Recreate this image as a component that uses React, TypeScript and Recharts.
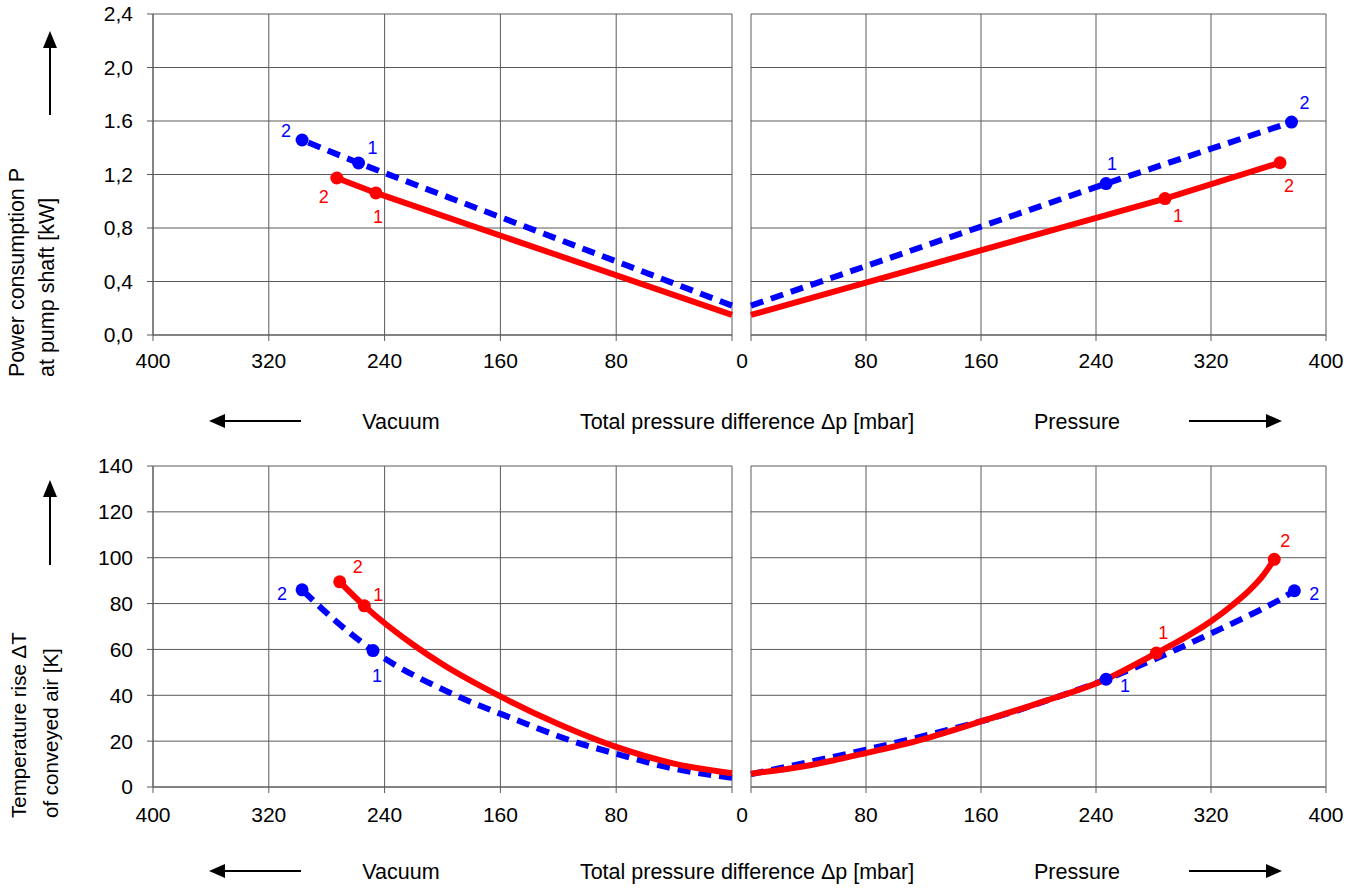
import React from 'react'
import { LineChart, Line, XAxis, YAxis, CartesianGrid } from 'recharts'

type Pt = { dp: number; v: number; mark?: string }

const dpTicks = [0, 80, 160, 240, 320, 400]
const powerTicks = [0, 0.4, 0.8, 1.2, 1.6, 2.0, 2.4]
const powerTickLabels = ['0,0', '0,4', '0,8', '1,2', '1.6', '2,0', '2,4']
const tempTicks = [0, 20, 40, 60, 80, 100, 120, 140]
const tempTickLabels = ['0', '20', '40', '60', '80', '100', '120', '140']

// power consumption P [kW], vacuum side
const vacPowerBlue: Pt[] = [
  { dp: 0, v: 0.22 },
  { dp: 258, v: 1.286, mark: '1' },
  { dp: 297, v: 1.458, mark: '2' },
]
const vacPowerRed: Pt[] = [
  { dp: 0, v: 0.15 },
  { dp: 246, v: 1.062, mark: '1' },
  { dp: 273, v: 1.174, mark: '2' },
]

// power consumption P [kW], pressure side
const presPowerBlue: Pt[] = [
  { dp: 0, v: 0.22 },
  { dp: 247, v: 1.132, mark: '1' },
  { dp: 376, v: 1.592, mark: '2' },
]
const presPowerRed: Pt[] = [
  { dp: 0, v: 0.15 },
  { dp: 288, v: 1.02, mark: '1' },
  { dp: 368, v: 1.288, mark: '2' },
]

// temperature rise dT [K], vacuum side
const vacTempBlue: Pt[] = [
  { dp: 0, v: 4 },
  { dp: 40, v: 8 },
  { dp: 80, v: 14.5 },
  { dp: 110, v: 20 },
  { dp: 150, v: 29.5 },
  { dp: 191, v: 40 },
  { dp: 248, v: 59.5, mark: '1' },
  { dp: 274, v: 72.5 },
  { dp: 297, v: 86, mark: '2' },
]
const vacTempRed: Pt[] = [
  { dp: 0, v: 6 },
  { dp: 40, v: 10.2 },
  { dp: 80, v: 17.5 },
  { dp: 120, v: 27.5 },
  { dp: 160, v: 39.5 },
  { dp: 200, v: 53.5 },
  { dp: 219, v: 61.5 },
  { dp: 254, v: 79, mark: '1' },
  { dp: 271, v: 89.5, mark: '2' },
]

// temperature rise dT [K], pressure side
const presTempBlue: Pt[] = [
  { dp: 0, v: 5.6 },
  { dp: 47, v: 11.8 },
  { dp: 80, v: 16.3 },
  { dp: 130, v: 23.8 },
  { dp: 170, v: 30.4 },
  { dp: 210, v: 38.6 },
  { dp: 247, v: 47, mark: '1' },
  { dp: 296, v: 60 },
  { dp: 320, v: 67 },
  { dp: 347, v: 75 },
  { dp: 370, v: 82.5 },
  { dp: 378, v: 85.6, mark: '2' },
]
const presTempRed: Pt[] = [
  { dp: 0, v: 5.8 },
  { dp: 40, v: 9.4 },
  { dp: 80, v: 14.8 },
  { dp: 120, v: 20.9 },
  { dp: 160, v: 28.6 },
  { dp: 200, v: 36.6 },
  { dp: 247, v: 47 },
  { dp: 282, v: 58.4, mark: '1' },
  { dp: 300, v: 64.5 },
  { dp: 320, v: 72.3 },
  { dp: 335, v: 79.4 },
  { dp: 347, v: 86 },
  { dp: 356, v: 92.1 },
  { dp: 364, v: 99.3, mark: '2' },
]

const BLUE = '#0000ff'
const RED = '#ff0000'
const GRID = '#5a5a5a'

type Offsets = Record<string, [number, number]>

function markDot(color: string, offsets: Offsets) {
  return (props: any) => {
    const { cx, cy, payload, index } = props
    if (!payload || !payload.mark) return <g key={index} />
    const [dx, dy] = offsets[payload.mark]
    return (
      <g key={index}>
        <circle cx={cx} cy={cy} r={6.5} fill={color} />
        <text x={cx + dx} y={cy + dy} fill={color} fontSize={18} textAnchor="middle" dominantBaseline="central">
          {payload.mark}
        </text>
      </g>
    )
  }
}

function dpTick(side: 'vac' | 'pres') {
  return (props: any) => {
    const { x, y, payload } = props
    if (side === 'vac' && payload.value === 0) return <g />
    const shift = side === 'pres' && payload.value === 0 ? -9 : 0
    return (
      <text x={x + shift} y={y} dy="0.71em" textAnchor="middle" fontSize={21} fill="#000">
        {payload.value}
      </text>
    )
  }
}

interface PanelProps {
  side: 'vac' | 'pres'
  top: number
  plotTop: number
  yMax: number
  yTicks: number[]
  yLabels: string[]
  blue: Pt[]
  red: Pt[]
  blueOffsets: Offsets
  redOffsets: Offsets
  curve: 'linear' | 'monotone'
  tickGap: number
}

function Panel(p: PanelProps) {
  const isVac = p.side === 'vac'
  const left = isVac ? 0 : 720
  const width = isVac ? 745 : 1359 - 720
  const height = 400
  const plotH = 321
  const xH = 40
  const margin = {
    top: p.plotTop,
    bottom: height - p.plotTop - plotH - xH,
    left: isVac ? 153 - 80 : 751 - 720,
    right: isVac ? 745 - 732 : 1359 - 1326,
  }
  return (
    <div style={{ position: 'absolute', left, top: p.top }}>
      <LineChart width={width} height={height} margin={margin}>
        <CartesianGrid stroke={GRID} horizontalValues={p.yTicks} verticalValues={dpTicks} />
        <XAxis
          dataKey="dp"
          type="number"
          domain={[0, 400]}
          ticks={dpTicks}
          reversed={isVac}
          height={xH}
          tickSize={6}
          tickMargin={p.tickGap}
          stroke={GRID}
          tick={dpTick(p.side)}
        />
        <YAxis
          type="number"
          domain={[0, p.yMax]}
          ticks={p.yTicks}
          hide={!isVac}
          width={80}
          tickSize={6}
          tickMargin={14}
          stroke={GRID}
          tick={{ fill: '#000', fontSize: 21 }}
          tickFormatter={(v: number) => p.yLabels[p.yTicks.indexOf(v)] ?? String(v)}
        />
        <Line
          data={p.blue}
          dataKey="v"
          type={p.curve}
          stroke={BLUE}
          strokeWidth={6}
          strokeDasharray="13 8"
          dot={false}
          activeDot={false}
          isAnimationActive={false}
        />
        <Line
          data={p.red}
          dataKey="v"
          type={p.curve}
          stroke={RED}
          strokeWidth={6}
          dot={markDot(RED, p.redOffsets)}
          activeDot={false}
          isAnimationActive={false}
        />
        <Line
          data={p.blue}
          dataKey="v"
          type={p.curve}
          stroke="none"
          strokeWidth={0}
          dot={markDot(BLUE, p.blueOffsets)}
          activeDot={false}
          isAnimationActive={false}
        />
      </LineChart>
    </div>
  )
}

function HArrow({ x1, x2, y }: { x1: number; x2: number; y: number }) {
  const dir = x2 > x1 ? 1 : -1
  return (
    <g>
      <line x1={x1} y1={y} x2={x2 - dir * 14} y2={y} stroke="#000" strokeWidth={2} />
      <polygon points={`${x2},${y} ${x2 - dir * 16},${y - 7} ${x2 - dir * 16},${y + 7}`} fill="#000" />
    </g>
  )
}

function VArrow({ x, y1, y2 }: { x: number; y1: number; y2: number }) {
  return (
    <g>
      <line x1={x} y1={y1} x2={x} y2={y2 + 14} stroke="#000" strokeWidth={2} />
      <polygon points={`${x},${y2} ${x - 7},${y2 + 17} ${x + 7},${y2 + 17}`} fill="#000" />
    </g>
  )
}

function Labels() {
  const rows = [422, 872]
  return (
    <svg width={1359} height={888} style={{ position: 'absolute', left: 0, top: 0, pointerEvents: 'none' }}>
      <VArrow x={50} y1={115} y2={31} />
      <VArrow x={50} y1={565} y2={480} />
      <text transform="translate(17,377) rotate(-90)" fontSize={21.5} dominantBaseline="central">
        Power consumption P
      </text>
      <text transform="translate(47,377) rotate(-90)" fontSize={21.5} dominantBaseline="central">
        at pump shaft [kW]
      </text>
      <text transform="translate(18,818) rotate(-90)" fontSize={20.5} dominantBaseline="central">
        Temperature rise ΔT
      </text>
      <text transform="translate(50,818) rotate(-90)" fontSize={20.5} dominantBaseline="central">
        of conveyed air [K]
      </text>
      {rows.map((y) => (
        <g key={y}>
          <HArrow x1={301} x2={209} y={y - 1} />
          <HArrow x1={1189} x2={1282} y={y - 1} />
          <text x={401} y={y} fontSize={21.5} textAnchor="middle" dominantBaseline="central">
            Vacuum
          </text>
          <text x={747} y={y} fontSize={21.5} textAnchor="middle" dominantBaseline="central">
            Total pressure difference Δp [mbar]
          </text>
          <text x={1077} y={y} fontSize={21.5} textAnchor="middle" dominantBaseline="central">
            Pressure
          </text>
        </g>
      ))}
    </svg>
  )
}

export default function App() {
  return (
    <div
      style={{
        position: 'absolute',
        left: 0,
        top: 0,
        width: 1359,
        height: 888,
        background: '#fff',
        fontFamily: '"Liberation Sans", Arial, sans-serif',
        overflow: 'hidden',
      }}
    >
      <Panel
        side="vac"
        top={0}
        plotTop={14}
        yMax={2.4}
        yTicks={powerTicks}
        yLabels={powerTickLabels}
        blue={vacPowerBlue}
        red={vacPowerRed}
        blueOffsets={{ '1': [14, -15], '2': [-16, -9] }}
        redOffsets={{ '1': [2, 24], '2': [-13, 19] }}
        curve="linear"
        tickGap={12}
      />
      <Panel
        side="pres"
        top={0}
        plotTop={14}
        yMax={2.4}
        yTicks={powerTicks}
        yLabels={powerTickLabels}
        blue={presPowerBlue}
        red={presPowerRed}
        blueOffsets={{ '1': [6, -20], '2': [13, -19] }}
        redOffsets={{ '1': [13, 17], '2': [9, 23] }}
        curve="linear"
        tickGap={12}
      />
      <Panel
        side="vac"
        top={450}
        plotTop={16}
        yMax={140}
        yTicks={tempTicks}
        yLabels={tempTickLabels}
        blue={vacTempBlue}
        red={vacTempRed}
        blueOffsets={{ '1': [4, 25], '2': [-20, 4] }}
        redOffsets={{ '1': [14, -11], '2': [18, -15] }}
        curve="monotone"
        tickGap={14}
      />
      <Panel
        side="pres"
        top={450}
        plotTop={16}
        yMax={140}
        yTicks={tempTicks}
        yLabels={tempTickLabels}
        blue={presTempBlue}
        red={presTempRed}
        blueOffsets={{ '1': [19, 7], '2': [20, 3] }}
        redOffsets={{ '1': [7, -20], '2': [11, -18] }}
        curve="monotone"
        tickGap={14}
      />
      <Labels />
    </div>
  )
}
